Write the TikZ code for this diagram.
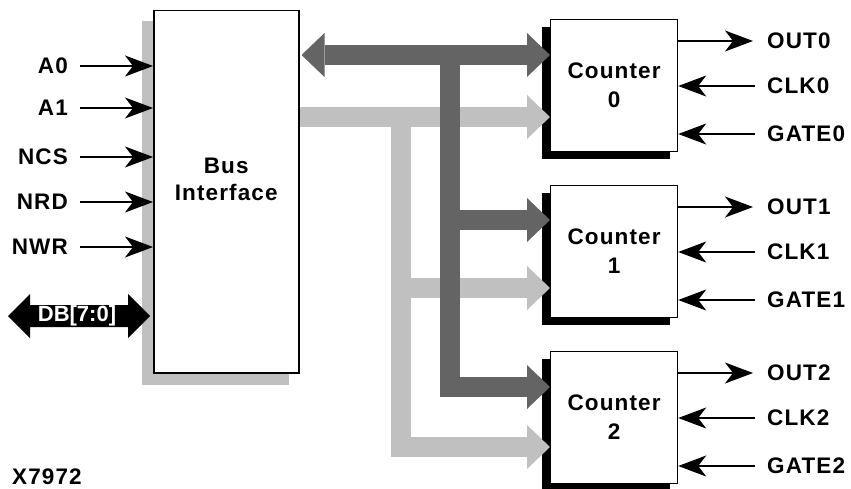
\documentclass[tikz,border=0pt]{standalone}
\usepackage{fontspec}
\newfontfamily\diafont{Liberation Sans Bold}[LetterSpace=5]
\newfontfamily\dbfont{Liberation Sans Bold}
\usetikzlibrary{arrows.meta,calc,backgrounds}
\definecolor{darkbus}{HTML}{646464}
\definecolor{lightbus}{HTML}{C0C0C0}
\tikzset{
  lbl/.style={font=\diafont\fontsize{22.5}{27}\selectfont, inner sep=0pt},
  busbox/.style={draw, line width=1.5pt, fill=white, inner sep=0pt,
    minimum width=145pt, minimum height=362pt, anchor=north west},
  counter/.style={draw, line width=1.2pt, fill=white, inner sep=0pt, align=center,
    minimum width=127pt, minimum height=132pt, anchor=north west,
    font=\diafont\fontsize{22.5}{29}\selectfont},
  sig/.style={line width=1.3pt, -{Stealth[length=28pt,width=21pt,inset=8pt]}},
}
% wide bus arrow head: tip at #2, pointing left (#3=1) or right (#3=-1)
\newcommand\bushead[3]{\fill[#1] (#2) -- ++(#3*23,-22) -- ++(0,44) -- cycle;}
\begin{document}
\begin{tikzpicture}[x=1pt,y=-1pt]
\useasboundingbox (0,0) rectangle (851,489);

% blocks
\node[busbox] (bi) at (153,10) {};
\node[lbl, align=center, font=\diafont\fontsize{22.5}{27}\selectfont]
  (bil) at ($(bi.center)+(0,-12)$) {Bus\\Interface};
\node[counter] (c0) at (550,19)  {Counter\\0};
\node[counter] (c1) at (550,185) {Counter\\1};
\node[counter] (c2) at (550,351) {Counter\\2};

% shadows and internal buses behind the blocks
\begin{scope}[on background layer]
  \fill[lightbus] ($(bi.north west)+(-11,11)$) rectangle ($(bi.south east)+(-11,11)$);
  \foreach \c in {c0,c1,c2}
    \fill[black] ($(\c.north west)+(-8,8)$) rectangle ($(\c.south east)+(-8,7)$);

  % control bus (light)
  \coordinate (l0) at ($(c0.north west)+(0,98)$);
  \coordinate (l1) at ($(c1.north west)+(0,103)$);
  \coordinate (l2) at ($(c2.north west)+(0,96)$);
  \fill[lightbus] (300,107) rectangle ($(l0)+(-23,10)$);
  \fill[lightbus] (391,127) rectangle (411,457);
  \fill[lightbus] (411,278) rectangle ($(l1)+(-23,10)$);
  \fill[lightbus] (391,437) rectangle ($(l2)+(-23,10)$);
  \bushead{lightbus}{l0}{-1}
  \bushead{lightbus}{l1}{-1}
  \bushead{lightbus}{l2}{-1}

  % data bus (dark)
  \coordinate (dl) at ($(bi.north east)+(2,45)$);
  \coordinate (d0) at ($(c0.north west)+(0,36)$);
  \coordinate (d1) at ($(c1.north west)+(0,35)$);
  \coordinate (d2) at ($(c2.north west)+(0,36)$);
  \fill[darkbus] ($(dl)+(23,-10)$) rectangle ($(d0)+(-23,10)$);
  \fill[darkbus] (440,45) rectangle (460,397);
  \fill[darkbus] (460,210) rectangle ($(d1)+(-23,10)$);
  \fill[darkbus] (460,377) rectangle ($(d2)+(-23,10)$);
  \bushead{darkbus}{dl}{1}
  \bushead{darkbus}{d0}{-1}
  \bushead{darkbus}{d1}{-1}
  \bushead{darkbus}{d2}{-1}
\end{scope}

% host side inputs
\foreach \n/\t/\y in {a0/A0/66, a1/A1/108, ncs/NCS/157, nrd/NRD/202, nwr/NWR/247}{
  \node[lbl, anchor=east] (\n) at (68,\y) {\t};
  \draw[sig] ([xshift=12pt]\n.east) -- (\n.east -| bi.west);
}

% data bus DB[7:0]
\coordinate (dbl) at (8,316);
\coordinate (dbr) at (150,316);
\fill[black] (dbl) -- ++(22,-22) -- ++(0,11) -- ($(dbr)+(-22,-11)$) -- ++(0,-11)
  -- (dbr) -- ++(-22,22) -- ++(0,-11) -- ($(dbl)+(22,11)$) -- ++(0,11) -- cycle;
\node[lbl, text=white, font=\dbfont\fontsize{22}{26}\selectfont]
  (db) at ($(dbl)!0.5!(dbr)+(-2,0)$) {DB[7:0]};

% counter pins
\foreach \i/\t in {0/19, 1/185, 2/351}{
  \node[lbl, anchor=west] (out\i)  at (767,\t+22)  {OUT\i};
  \node[lbl, anchor=west] (clk\i)  at (767,\t+67)  {CLK\i};
  \node[lbl, anchor=west] (gate\i) at (767,\t+115) {GATE\i};
  \draw[sig] (c\i.east |- out\i.west) -- ([xshift=-14pt]out\i.west);
  \draw[sig] ([xshift=-12pt]clk\i.west) -- (clk\i.west -| c\i.east);
  \draw[sig] ([xshift=-12pt]gate\i.west) -- (gate\i.west -| c\i.east);
}

\node[lbl, anchor=west] (fig) at (12,477) {X7972};
\end{tikzpicture}
\end{document}
